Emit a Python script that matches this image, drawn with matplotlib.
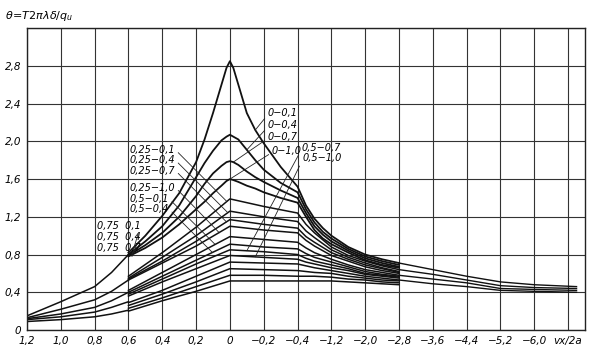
import numpy as np
import matplotlib
matplotlib.use('Agg')
import matplotlib.pyplot as plt

plt.rcParams['font.family'] = ['DejaVu Sans']
plt.rcParams['mathtext.fontset'] = 'dejavusans'

# x axis: equally spaced cells, but non-uniform values
x_ticks = [1.2, 1.0, 0.8, 0.6, 0.4, 0.2, 0, -0.2, -0.4, -1.2, -2.0, -2.8,
           -3.6, -4.4, -5.2, -6.0, -6.8, -7.6]
x_labels = ['1,2', '1,0', '0,8', '0,6', '0,4', '0,2', '0', '\u22120,2', '\u22120,4',
            '\u22121,2', '\u22122,0', '\u22122,8', '\u22123,6', '\u22124,4', '\u22125,2',
            '\u22126,0', 'vx/2a']
y_ticks = [0, 0.4, 0.8, 1.2, 1.6, 2.0, 2.4, 2.8]

# curves 0-q (fine grid near the peak)
x_p0 = [0.6, 0.5, 0.4, 0.3, 0.2, 0.15, 0.1, 0.05, 0.02, 0, -0.02, -0.05, -0.1, -0.15, -0.2,
        -0.3, -0.4, -0.6, -0.8, -1.0, -1.2, -1.6, -2.0, -2.4, -2.8]
p0_q01 = [0.82, 1.00, 1.21, 1.45, 1.78, 2.02, 2.30, 2.60, 2.78, 2.85, 2.78, 2.60, 2.30, 2.12, 1.98,
          1.73, 1.52, 1.32, 1.18, 1.08, 1.00, 0.88, 0.80, 0.75, 0.71]
p0_q04 = [0.80, 0.94, 1.10, 1.32, 1.62, 1.77, 1.90, 2.01, 2.05, 2.07, 2.05, 2.02, 1.91, 1.80, 1.70,
          1.56, 1.46, 1.28, 1.14, 1.04, 0.97, 0.86, 0.78, 0.73, 0.69]
p0_q07 = [0.79, 0.90, 1.03, 1.20, 1.42, 1.55, 1.66, 1.74, 1.78, 1.79, 1.78, 1.75, 1.68, 1.62, 1.57,
          1.48, 1.40, 1.24, 1.10, 1.01, 0.94, 0.84, 0.76, 0.71, 0.67]
p0_q10 = [0.78, 0.87, 0.98, 1.12, 1.28, 1.36, 1.45, 1.53, 1.58, 1.60, 1.59, 1.57, 1.53, 1.50, 1.46,
          1.40, 1.35, 1.20, 1.06, 0.97, 0.91, 0.82, 0.74, 0.69, 0.66]

# curves 0.25-q, 0.5-q, 0.75-q
x_rest = [0.6, 0.4, 0.2, 0, -0.2, -0.4, -0.6, -0.8, -1.2, -1.6, -2.0, -2.4, -2.8]
p25_q01 = [0.57, 0.82, 1.09, 1.39, 1.31, 1.24, 1.12, 1.03, 0.88, 0.79, 0.73, 0.68, 0.64]
p25_q04 = [0.55, 0.77, 1.00, 1.26, 1.20, 1.15, 1.05, 0.98, 0.85, 0.77, 0.71, 0.66, 0.62]
p25_q07 = [0.54, 0.73, 0.94, 1.17, 1.12, 1.08, 0.99, 0.93, 0.82, 0.75, 0.69, 0.65, 0.61]
p25_q10 = [0.53, 0.71, 0.89, 1.10, 1.06, 1.03, 0.95, 0.89, 0.79, 0.73, 0.67, 0.63, 0.60]
p50_q01 = [0.42, 0.61, 0.80, 0.99, 0.96, 0.93, 0.87, 0.82, 0.75, 0.69, 0.64, 0.61, 0.58]
p50_q04 = [0.40, 0.57, 0.74, 0.91, 0.88, 0.86, 0.81, 0.77, 0.72, 0.67, 0.62, 0.59, 0.57]
p50_q07 = [0.38, 0.54, 0.70, 0.85, 0.83, 0.80, 0.76, 0.73, 0.69, 0.65, 0.60, 0.58, 0.56]
p50_q10 = [0.36, 0.51, 0.65, 0.79, 0.77, 0.75, 0.72, 0.70, 0.66, 0.63, 0.59, 0.57, 0.55]
p75_q01 = [0.29, 0.42, 0.57, 0.72, 0.71, 0.70, 0.68, 0.66, 0.63, 0.60, 0.57, 0.55, 0.53]
p75_q04 = [0.26, 0.38, 0.51, 0.65, 0.64, 0.63, 0.62, 0.61, 0.60, 0.57, 0.55, 0.53, 0.52]
p75_q07 = [0.23, 0.34, 0.46, 0.58, 0.58, 0.57, 0.57, 0.57, 0.56, 0.54, 0.53, 0.51, 0.50]
p75_q10 = [0.20, 0.31, 0.41, 0.52, 0.52, 0.52, 0.52, 0.52, 0.52, 0.51, 0.50, 0.49, 0.48]

# tails beyond -2.8
x_tail = [-2.8, -3.6, -4.4, -5.2, -6.0, -7.0]
tail_1 = [0.71, 0.64, 0.57, 0.51, 0.48, 0.46]
tail_2 = [0.64, 0.59, 0.53, 0.47, 0.45, 0.44]
tail_3 = [0.58, 0.54, 0.50, 0.44, 0.43, 0.42]
tail_4 = [0.53, 0.49, 0.46, 0.42, 0.41, 0.40]

# left branches 1.2 .. 0.6
x_left = [1.2, 1.0, 0.8, 0.7, 0.6]
left_1 = [0.15, 0.30, 0.46, 0.61, 0.80]
left_2 = [0.13, 0.22, 0.32, 0.41, 0.53]
left_3 = [0.12, 0.17, 0.24, 0.31, 0.40]
left_4 = [0.11, 0.14, 0.19, 0.24, 0.30]
left_5 = [0.09, 0.11, 0.14, 0.17, 0.21]


def pos(x):
    x = np.asarray(x, dtype=float)
    return np.interp(-x, -np.array(x_ticks), np.arange(len(x_ticks)))


fig = plt.figure(figsize=(6, 3.52), dpi=100, facecolor='w')
ax = fig.add_axes([0.045, 0.0625, 0.93, 0.8575])

p0 = [p0_q01, p0_q04, p0_q07, p0_q10]
rest = [p25_q01, p25_q04, p25_q07, p25_q10, p50_q01, p50_q04, p50_q07, p50_q10,
        p75_q01, p75_q04, p75_q07, p75_q10]
for y in p0:
    ax.plot(pos(x_p0), y, color='#111111', lw=1.3)
for y in rest:
    ax.plot(pos(x_rest), y, color='#111111', lw=1.1)
for y in [tail_1, tail_2, tail_3, tail_4]:
    ax.plot(pos(x_tail), y, color='#111111', lw=1.0)
for y in [left_1, left_2, left_3, left_4, left_5]:
    ax.plot(pos(x_left), y, color='#111111', lw=1.1)

ax.set_xlim(0, 16.5)
ax.set_ylim(0, 3.2)
ax.set_xticks(np.arange(17))
ax.set_xticklabels(x_labels, fontsize=7.5, style='italic')
ax.set_yticks(np.arange(0, 3.21, 0.4))
ax.set_yticklabels([('%.1f' % v).replace('.', ',') if v > 0 else '0' for v in y_ticks] + [''],
                   fontsize=7.5, style='italic')
ax.tick_params(length=0, pad=4)
ax.grid(True, color='#333333', lw=0.8)
for s in ax.spines.values():
    s.set_color('#222222')
    s.set_linewidth(1.0)

fig.text(0.008, 0.935, r'$\theta\!=\!T2\pi\lambda\delta/q_u$', fontsize=8, ha='left', va='bottom')


def label(text, tx, ty, tgt, side):
    rel = (1, 0.5) if side == 'left' else (0, 0.3)
    ax.annotate(text, xy=tgt, xytext=(tx, ty), fontsize=7, style='italic',
                ha='left', va='center',
                arrowprops=dict(arrowstyle='-', lw=0.6, color='#222222',
                                shrinkA=0, shrinkB=0, relpos=rel))


def on_curve(cx, cy, at):
    return (float(pos(at)), float(np.interp(-at, -np.array(cx), cy)))


def ray_hit(i0, v0, cx, cy, slope=-0.306):
    # first point where a straight leader from (i0, v0) meets the curve
    ii = np.linspace(i0, 8, 400)
    ray = v0 + slope * (ii - i0)
    cv = np.interp(ii, pos(cx), cy)
    k = np.argmax(ray <= cv)
    return (float(ii[k]), float(ray[k]))


label('0\u22120,1', 7.11, 2.30, on_curve(x_p0, p0_q01, -0.15), 'right')
label('0\u22120,4', 7.11, 2.17, on_curve(x_p0, p0_q04, -0.1), 'right')
label('0\u22120,7', 7.11, 2.05, on_curve(x_p0, p0_q07, -0.02), 'right')
label('0\u22121,0', 7.23, 1.90, on_curve(x_p0, p0_q10, 0.0), 'right')
label('0,5\u22120,7', 8.11, 1.93, on_curve(x_rest, p50_q07, -0.1), 'right')
label('0,5\u22121,0', 8.14, 1.82, on_curve(x_rest, p50_q10, -0.15), 'right')

left_labels = [('0,25\u22120,1', 1.91, p25_q01), ('0,25\u22120,4', 1.80, p25_q04),
               ('0,25\u22120,7', 1.69, p25_q07), ('0,25\u22121,0', 1.51, p25_q10),
               ('0,5\u22120,1', 1.39, p50_q01), ('0,5\u22120,4', 1.28, p50_q04)]
for text, ty, cy in left_labels:
    end = 3.04 + 0.27 * len(text) / 2
    label(text, 3.04, ty, ray_hit(end, ty, x_rest, cy), 'left')

label('0,75  0,1', 2.06, 1.10, (3.1, 0.80), 'left')
label('0,75  0,4', 2.06, 0.99, (3.1, 0.79), 'left')
label('0,75  0,7', 2.06, 0.87, (3.1, 0.78), 'left')

fig.savefig('out.png', dpi=100, facecolor='w')
